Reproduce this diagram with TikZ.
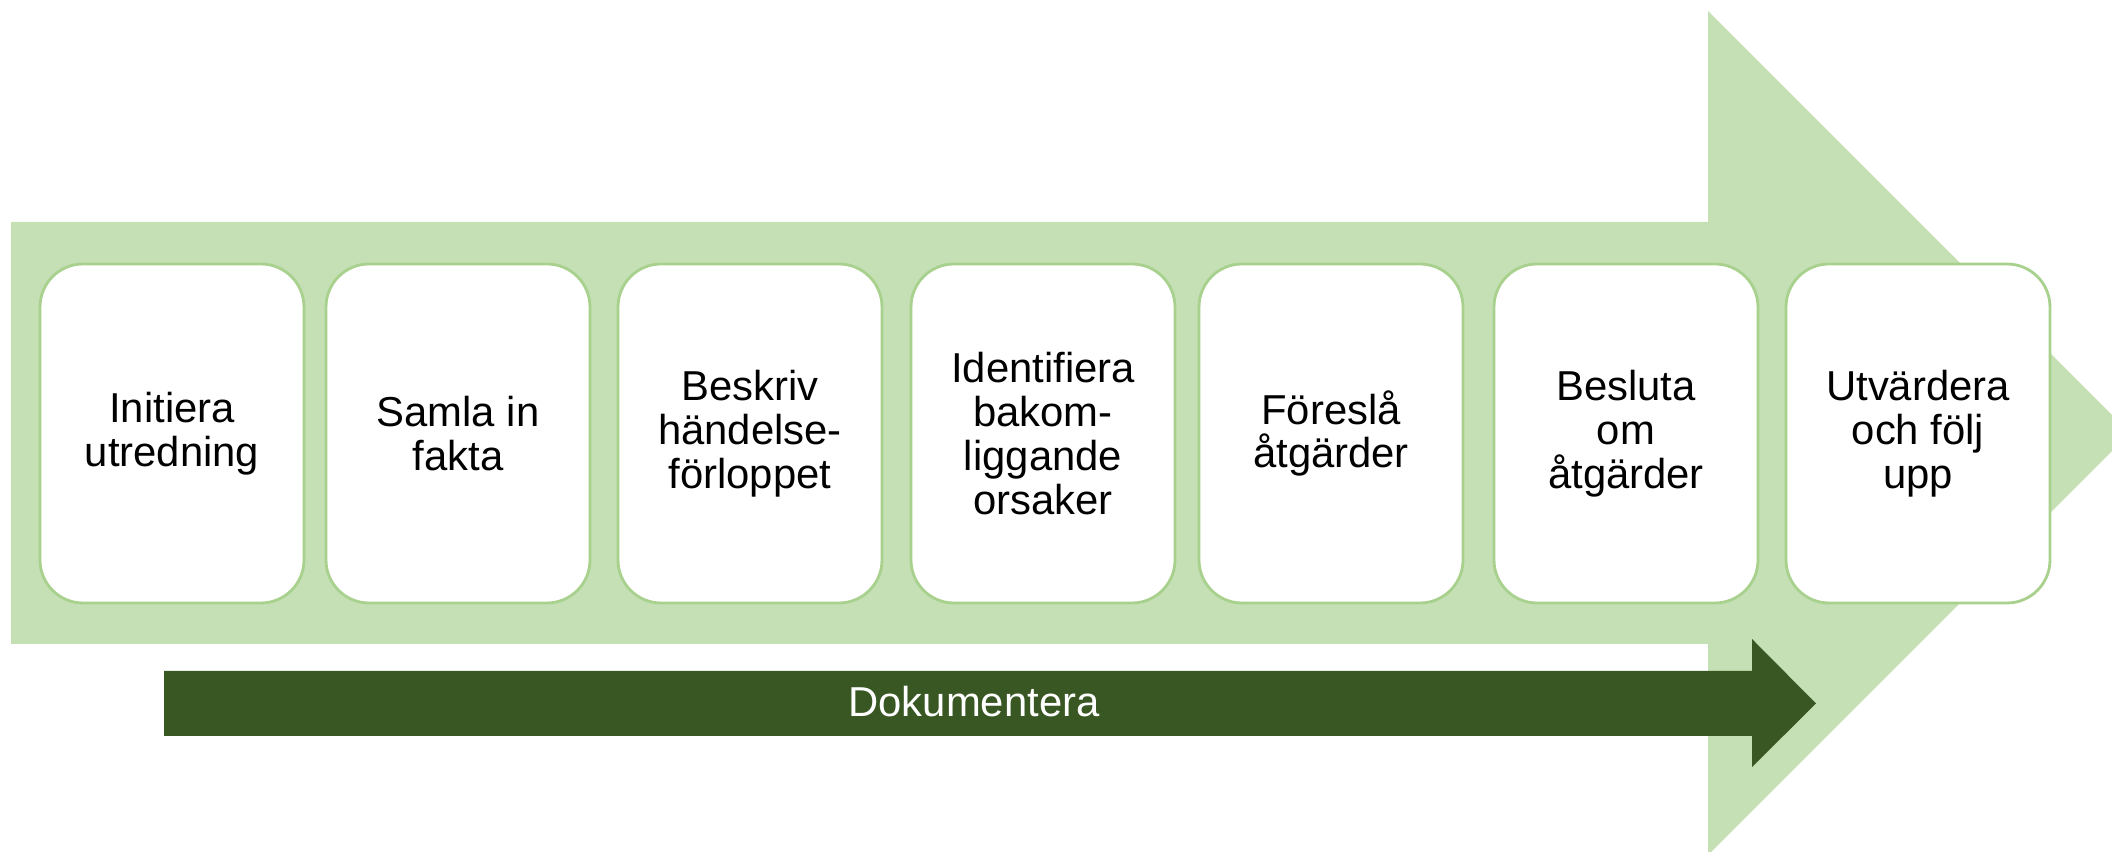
\documentclass[tikz,border=0pt]{standalone}
\usepackage{fontspec}
\setmainfont{Liberation Sans}
\usepackage{tikz}
\definecolor{LightGreen}{HTML}{C5E0B4}
\definecolor{BoxEdge}{HTML}{A9D18E}
\definecolor{DarkGreen}{HTML}{385723}

\begin{document}
\begin{tikzpicture}[x=1cm, y=1cm,
      stepbox/.style={draw=BoxEdge, line width=0.8pt, fill=white, rounded corners=0.43cm,
        minimum width=2.64cm, minimum height=3.39cm, align=center, inner sep=0pt,
        font=\fontsize{11.9}{12.45}\selectfont},
      doclabel/.style={text=white, inner sep=0pt, font=\fontsize{11.9}{12.45}\selectfont}]
    \useasboundingbox (0,0) rectangle (21.12,8.52);
    % big process arrow
    \fill[LightGreen] (0.11,2.08) -- (0.11,6.30) -- (17.08,6.30) -- (17.08,8.41)
      -- (21.30,4.19) -- (17.08,-0.03) -- (17.08,2.08) -- cycle;
    % documentation arrow
    \fill[DarkGreen] (1.64,1.16) -- (1.64,1.81) -- (17.52,1.81) -- (17.52,2.13)
      -- (18.16,1.485) -- (17.52,0.85) -- (17.52,1.16) -- cycle;
    \node[doclabel, anchor=base] (Dokumentera) at (9.74,1.35) {Dokumentera};
    % steps
    \node[stepbox] (Initiera) at (1.72,4.185) {Initiera\\utredning};
    \node[stepbox] (Samla) at (4.58,4.185) {Samla in\\fakta};
    \node[stepbox] (Beskriv) at (7.50,4.185) {Beskriv\\händelse-\\förloppet};
    \node[stepbox] (Identifiera) at (10.43,4.185) {Identifiera\\bakom-\\liggande\\orsaker};
    \node[stepbox] (Foresla) at (13.31,4.185) {Föreslå\\åtgärder};
    \node[stepbox] (Besluta) at (16.26,4.185) {Besluta\\om\\åtgärder};
    \node[stepbox] (Utvardera) at (19.18,4.185) {Utvärdera\\och följ\\upp};
  \end{tikzpicture}
\end{document}
